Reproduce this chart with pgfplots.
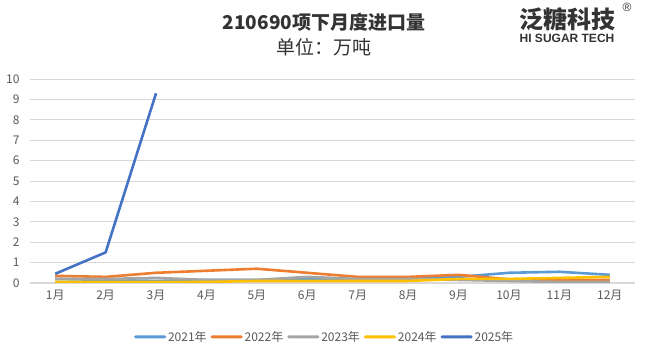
\documentclass[border=0pt]{standalone}
\usepackage{pgfplots}
\pgfplotsset{compat=1.18}
\usepackage{fontspec}
\setmainfont{Noto Sans CJK SC}
\newfontfamily\titlefont{Noto Sans CJK SC}
\newfontfamily\logofont{Noto Sans CJK SC}
\newfontfamily\latinfont{Liberation Sans}
\definecolor{c21}{HTML}{5B9BD5}
\definecolor{c22}{HTML}{ED7D31}
\definecolor{c23}{HTML}{A5A5A5}
\definecolor{c24}{HTML}{FFC000}
\definecolor{c25}{HTML}{4472C4}
\definecolor{tickgray}{HTML}{595959}
\definecolor{gridgray}{HTML}{D9D9D9}
\begin{document}
\begin{tikzpicture}[x=1pt,y=1pt]
\useasboundingbox (0,0) rectangle (652,352);
\begin{axis}[
  at={(30pt,69pt)}, anchor=south west,
  scale only axis, width=605pt, height=204pt,
  xmin=0.5, xmax=12.5, ymin=0, ymax=10,
  xtick={1,...,12},
  xticklabels={1月,2月,3月,4月,5月,6月,7月,8月,9月,10月,11月,12月},
  ytick={0,1,...,10},
  axis x line*=bottom, axis y line*=left,
  x axis line style={draw=gridgray, line width=1.2pt, -},
  y axis line style={draw=none},
  tick style={draw=none},
  ymajorgrids, grid style={gridgray, line width=0.8pt},
  every tick label/.append style={font=\fontsize{12}{14}\selectfont, text=tickgray},
  yticklabel style={anchor=east, xshift=-7pt},
  /pgf/number format/assume math mode=true,
  xticklabel style={yshift=-4pt},
  legend style={at={(0.487,-0.215)}, anchor=north, draw=none, legend columns=5,
    font=\fontsize{12}{14}\selectfont, text=tickgray,
    /tikz/every even column/.append style={column sep=2pt}},
  legend image code/.code={\fill[#1, draw=none, rounded corners=1.4pt] (0pt,-1.5pt) rectangle (32pt,1.5pt);},
  every axis plot/.append style={line width=2.6pt, line join=round},
]
\addplot[c21] coordinates {(1,0.20)(2,0.15)(3,0.10)(4,0.15)(5,0.15)(6,0.20)(7,0.15)(8,0.20)(9,0.30)(10,0.50)(11,0.55)(12,0.40)};
\addlegendentry{2021年}
\addplot[c22] coordinates {(1,0.35)(2,0.30)(3,0.50)(4,0.60)(5,0.70)(6,0.50)(7,0.30)(8,0.30)(9,0.40)(10,0.18)(11,0.15)(12,0.15)};
\addlegendentry{2022年}
\addplot[c23] coordinates {(1,0.20)(2,0.20)(3,0.25)(4,0.15)(5,0.15)(6,0.30)(7,0.20)(8,0.20)(9,0.15)(10,0.10)(11,0.05)(12,0.05)};
\addlegendentry{2023年}
\addplot[c24] coordinates {(1,0.05)(2,0.05)(3,0.05)(4,0.05)(5,0.10)(6,0.10)(7,0.10)(8,0.10)(9,0.20)(10,0.20)(11,0.25)(12,0.30)};
\addlegendentry{2024年}
\addplot[c25] coordinates {(1,0.45)(2,1.50)(3,9.30)};
\addlegendentry{2025年}
\end{axis}
\node[font=\titlefont\bfseries\fontsize{19}{21}\selectfont, text=black!80] at (324,330) {210690项下月度进口量};
\node[font=\titlefont\fontsize{19}{21}\selectfont, text=black!80] at (324,305) {单位：万吨};
\node[font=\logofont\bfseries\fontsize{24}{26}\selectfont, text=black!80] at (567,333) {泛糖科技};
\node[font=\latinfont\bfseries\fontsize{12}{13}\selectfont, text=black!80] at (567,314) {HI SUGAR TECH};
\node[font=\latinfont\fontsize{12}{13}\selectfont, text=black!80] at (627,345) {®};
\end{tikzpicture}
\end{document}
